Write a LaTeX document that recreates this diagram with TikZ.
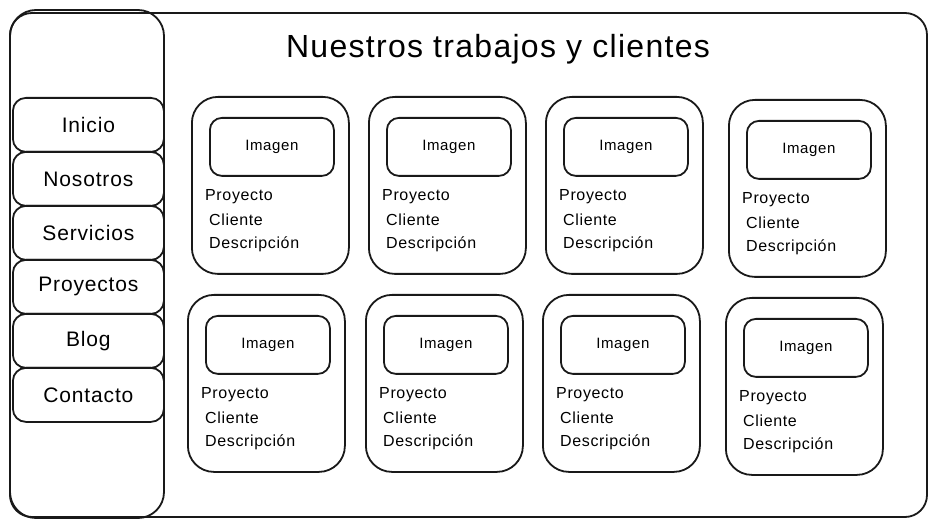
\documentclass[tikz,border=0pt]{standalone}
\usepackage{fontspec}
\setmainfont{Liberation Sans}[LetterSpace=4]
\usetikzlibrary{calc}
\tikzset{
  x=1pt, y=-1pt,
  stroke/.style={draw=black!90, line width=1.8pt},
  outerbox/.style={stroke, rounded corners=22pt},
  sidebar/.style={stroke, rounded corners=26pt},
  menuitem/.style={stroke, rounded corners=13pt, minimum width=151pt, minimum height=54pt, inner sep=0pt, font=\fontsize{21}{25}\selectfont, anchor=north west},
  card/.style={stroke, rounded corners=26pt, minimum width=157pt, minimum height=177pt, inner sep=0pt, anchor=north west},
  imgbox/.style={stroke, rounded corners=12pt, minimum width=124pt, minimum height=58pt, inner sep=0pt, font=\fontsize{15}{18}\selectfont, anchor=north west},
  info/.style={anchor=west, inner sep=0pt, font=\fontsize{16}{19}\selectfont},
  titletext/.style={font=\fontsize{32}{38}\selectfont, inner sep=0pt}
}
\newcommand\mkcard[3]{%
  \node[card] (#1) at (#2,#3) {};
  \node[imgbox] (#1img) at ($(#1.north west)+(18,21)$) {Imagen};
  \node[info] (#1p) at ($(#1.north west)+(14,101)$) {Proyecto};
  \node[info] (#1c) at ($(#1.north west)+(18,124)$) {Cliente};
  \node[info] (#1d) at ($(#1.north west)+(18,148)$) {Descripción};
}
\begin{document}
\begin{tikzpicture}
\useasboundingbox (0,0) rectangle (937,526);
\draw[outerbox] (10,13) rectangle (927,517);
\draw[sidebar] (10,10) rectangle (164,518);
\node[titletext] (title) at (498,49) {Nuestros trabajos y clientes};
\node[menuitem] (m1) at (12,97) {Inicio};
\node[menuitem] (m2) at (12,151) {Nosotros};
\node[menuitem] (m3) at (12,205) {Servicios};
\node[menuitem] (m4) at (12,259) {Proyectos};
\node[menuitem] (m5) at (12,313) {Blog};
\node[menuitem] (m6) at (12,367) {Contacto};
\mkcard{ca}{191}{96}
\mkcard{cb}{368}{96}
\mkcard{cc}{545}{96}
\mkcard{cd}{728}{99}
\mkcard{ce}{187}{294}
\mkcard{cf}{365}{294}
\mkcard{cg}{542}{294}
\mkcard{ch}{725}{297}
\end{tikzpicture}
\end{document}
